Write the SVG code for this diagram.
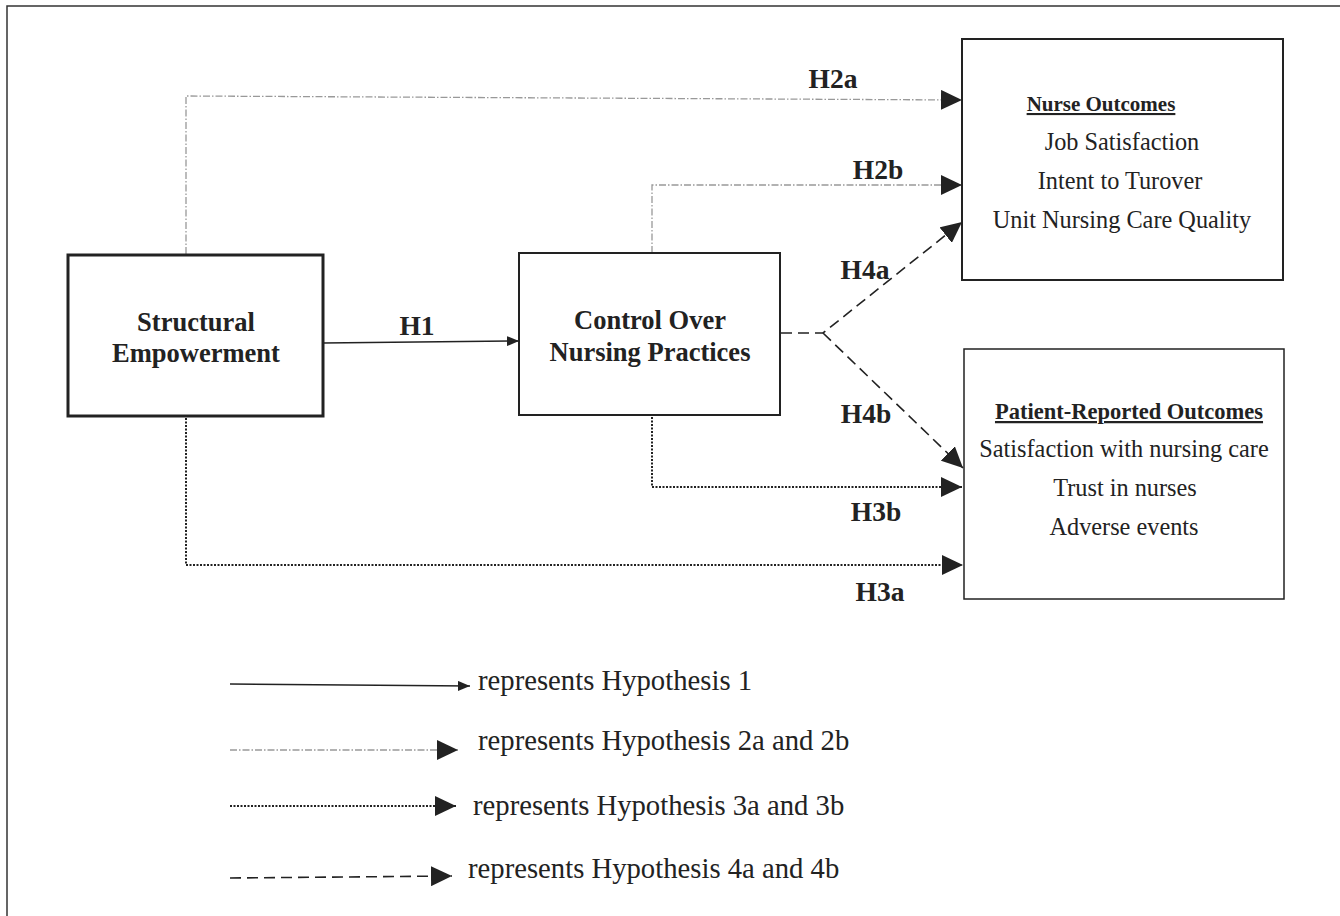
<svg xmlns="http://www.w3.org/2000/svg" width="1340" height="916" viewBox="0 0 1340 916">
<style>
.box{fill:#fff;stroke:#222}
.nt{font-family:"Liberation Serif",serif;font-weight:bold;font-size:26.5px;fill:#222;text-anchor:middle}
.hl{font-family:"Liberation Serif",serif;font-weight:bold;font-size:27.5px;fill:#222;text-anchor:middle}
.hd{font-family:"Liberation Serif",serif;font-weight:bold;fill:#222;text-anchor:middle;text-decoration:underline}
.bt{font-family:"Liberation Serif",serif;font-size:24.3px;fill:#222;text-anchor:middle}
.lg{font-family:"Liberation Serif",serif;font-size:28.7px;fill:#222}
.solid{fill:none;stroke:#222;stroke-width:1.5}
.dd{fill:none;stroke:#999;stroke-width:1.3;stroke-dasharray:7 2 1.5 2}
.dot{fill:none;stroke:#222;stroke-width:2;stroke-dasharray:2 1.5}
.dash{fill:none;stroke:#222;stroke-width:1.6;stroke-dasharray:11 6}
</style>
<defs>
<marker id="big" markerUnits="userSpaceOnUse" markerWidth="21" markerHeight="20" refX="21" refY="10" orient="auto">
<path d="M0,0 L21,10 L0,20 z" fill="#222"/>
</marker>
<marker id="small" markerUnits="userSpaceOnUse" markerWidth="12" markerHeight="10" refX="12" refY="5" orient="auto">
<path d="M0,0 L12,5 L0,10 z" fill="#222"/>
</marker>
</defs>
<rect width="1340" height="916" fill="#fff"/>
<path d="M7,916 L7,6 L1340,6" fill="none" stroke="#333" stroke-width="1.5"/>

<g id="connectors">
<path class="solid" d="M323,343 L519,341" marker-end="url(#small)"/>
<path class="dd" d="M186,254 L186,96 L962,100" marker-end="url(#big)"/>
<path class="dd" d="M652,253 L652,185 L962,185" marker-end="url(#big)"/>
<path class="dash" d="M781,333 L823,333 L962,222" marker-end="url(#big)"/>
<path class="dash" d="M823,333 L963,468" marker-end="url(#big)"/>
<path class="dot" d="M652,417 L652,487 L962,487" marker-end="url(#big)"/>
<path class="dot" d="M186,418 L186,565 L963,565" marker-end="url(#big)"/>
<text class="hl" x="417" y="335">H1</text>
<text class="hl" x="833" y="88">H2a</text>
<text class="hl" x="878" y="179">H2b</text>
<text class="hl" x="865" y="279">H4a</text>
<text class="hl" x="866" y="423">H4b</text>
<text class="hl" x="876" y="521">H3b</text>
<text class="hl" x="880" y="601">H3a</text>
</g>

<g id="structural-empowerment">
<rect class="box" x="68" y="255" width="255" height="161" stroke-width="3"/>
<text class="nt" x="196" y="331">Structural</text>
<text class="nt" x="196" y="362">Empowerment</text>
</g>

<g id="control-over-nursing-practices">
<rect class="box" x="519" y="253" width="261" height="162" stroke-width="2"/>
<text class="nt" x="650" y="329">Control Over</text>
<text class="nt" x="650" y="361">Nursing Practices</text>
</g>

<g id="nurse-outcomes">
<rect class="box" x="962" y="39" width="321" height="241" stroke-width="2"/>
<text class="hd" x="1101" y="111" font-size="21">Nurse Outcomes</text>
<text class="bt" x="1122" y="150">Job Satisfaction</text>
<text class="bt" x="1120" y="189">Intent to Turover</text>
<text class="bt" x="1122" y="228">Unit Nursing Care Quality</text>
</g>

<g id="patient-reported-outcomes">
<rect class="box" x="964" y="349" width="320" height="250" stroke-width="1.5"/>
<text class="hd" x="1129" y="419" font-size="22.5">Patient-Reported Outcomes</text>
<text class="bt" x="1124" y="457">Satisfaction with nursing care</text>
<text class="bt" x="1125" y="496">Trust in nurses</text>
<text class="bt" x="1124" y="535">Adverse events</text>
</g>

<g id="legend">
<path class="solid" d="M230,684 L470,686" marker-end="url(#small)"/>
<text class="lg" x="478" y="690">represents Hypothesis 1</text>
<path class="dd" d="M230,750 L458,750" marker-end="url(#big)"/>
<text class="lg" x="478" y="750">represents Hypothesis 2a and 2b</text>
<path class="dot" d="M230,806 L456,806" marker-end="url(#big)"/>
<text class="lg" x="473" y="815">represents Hypothesis 3a and 3b</text>
<path class="dash" d="M230,878 L452,876" marker-end="url(#big)"/>
<text class="lg" x="468" y="878">represents Hypothesis 4a and 4b</text>
</g>
</svg>
